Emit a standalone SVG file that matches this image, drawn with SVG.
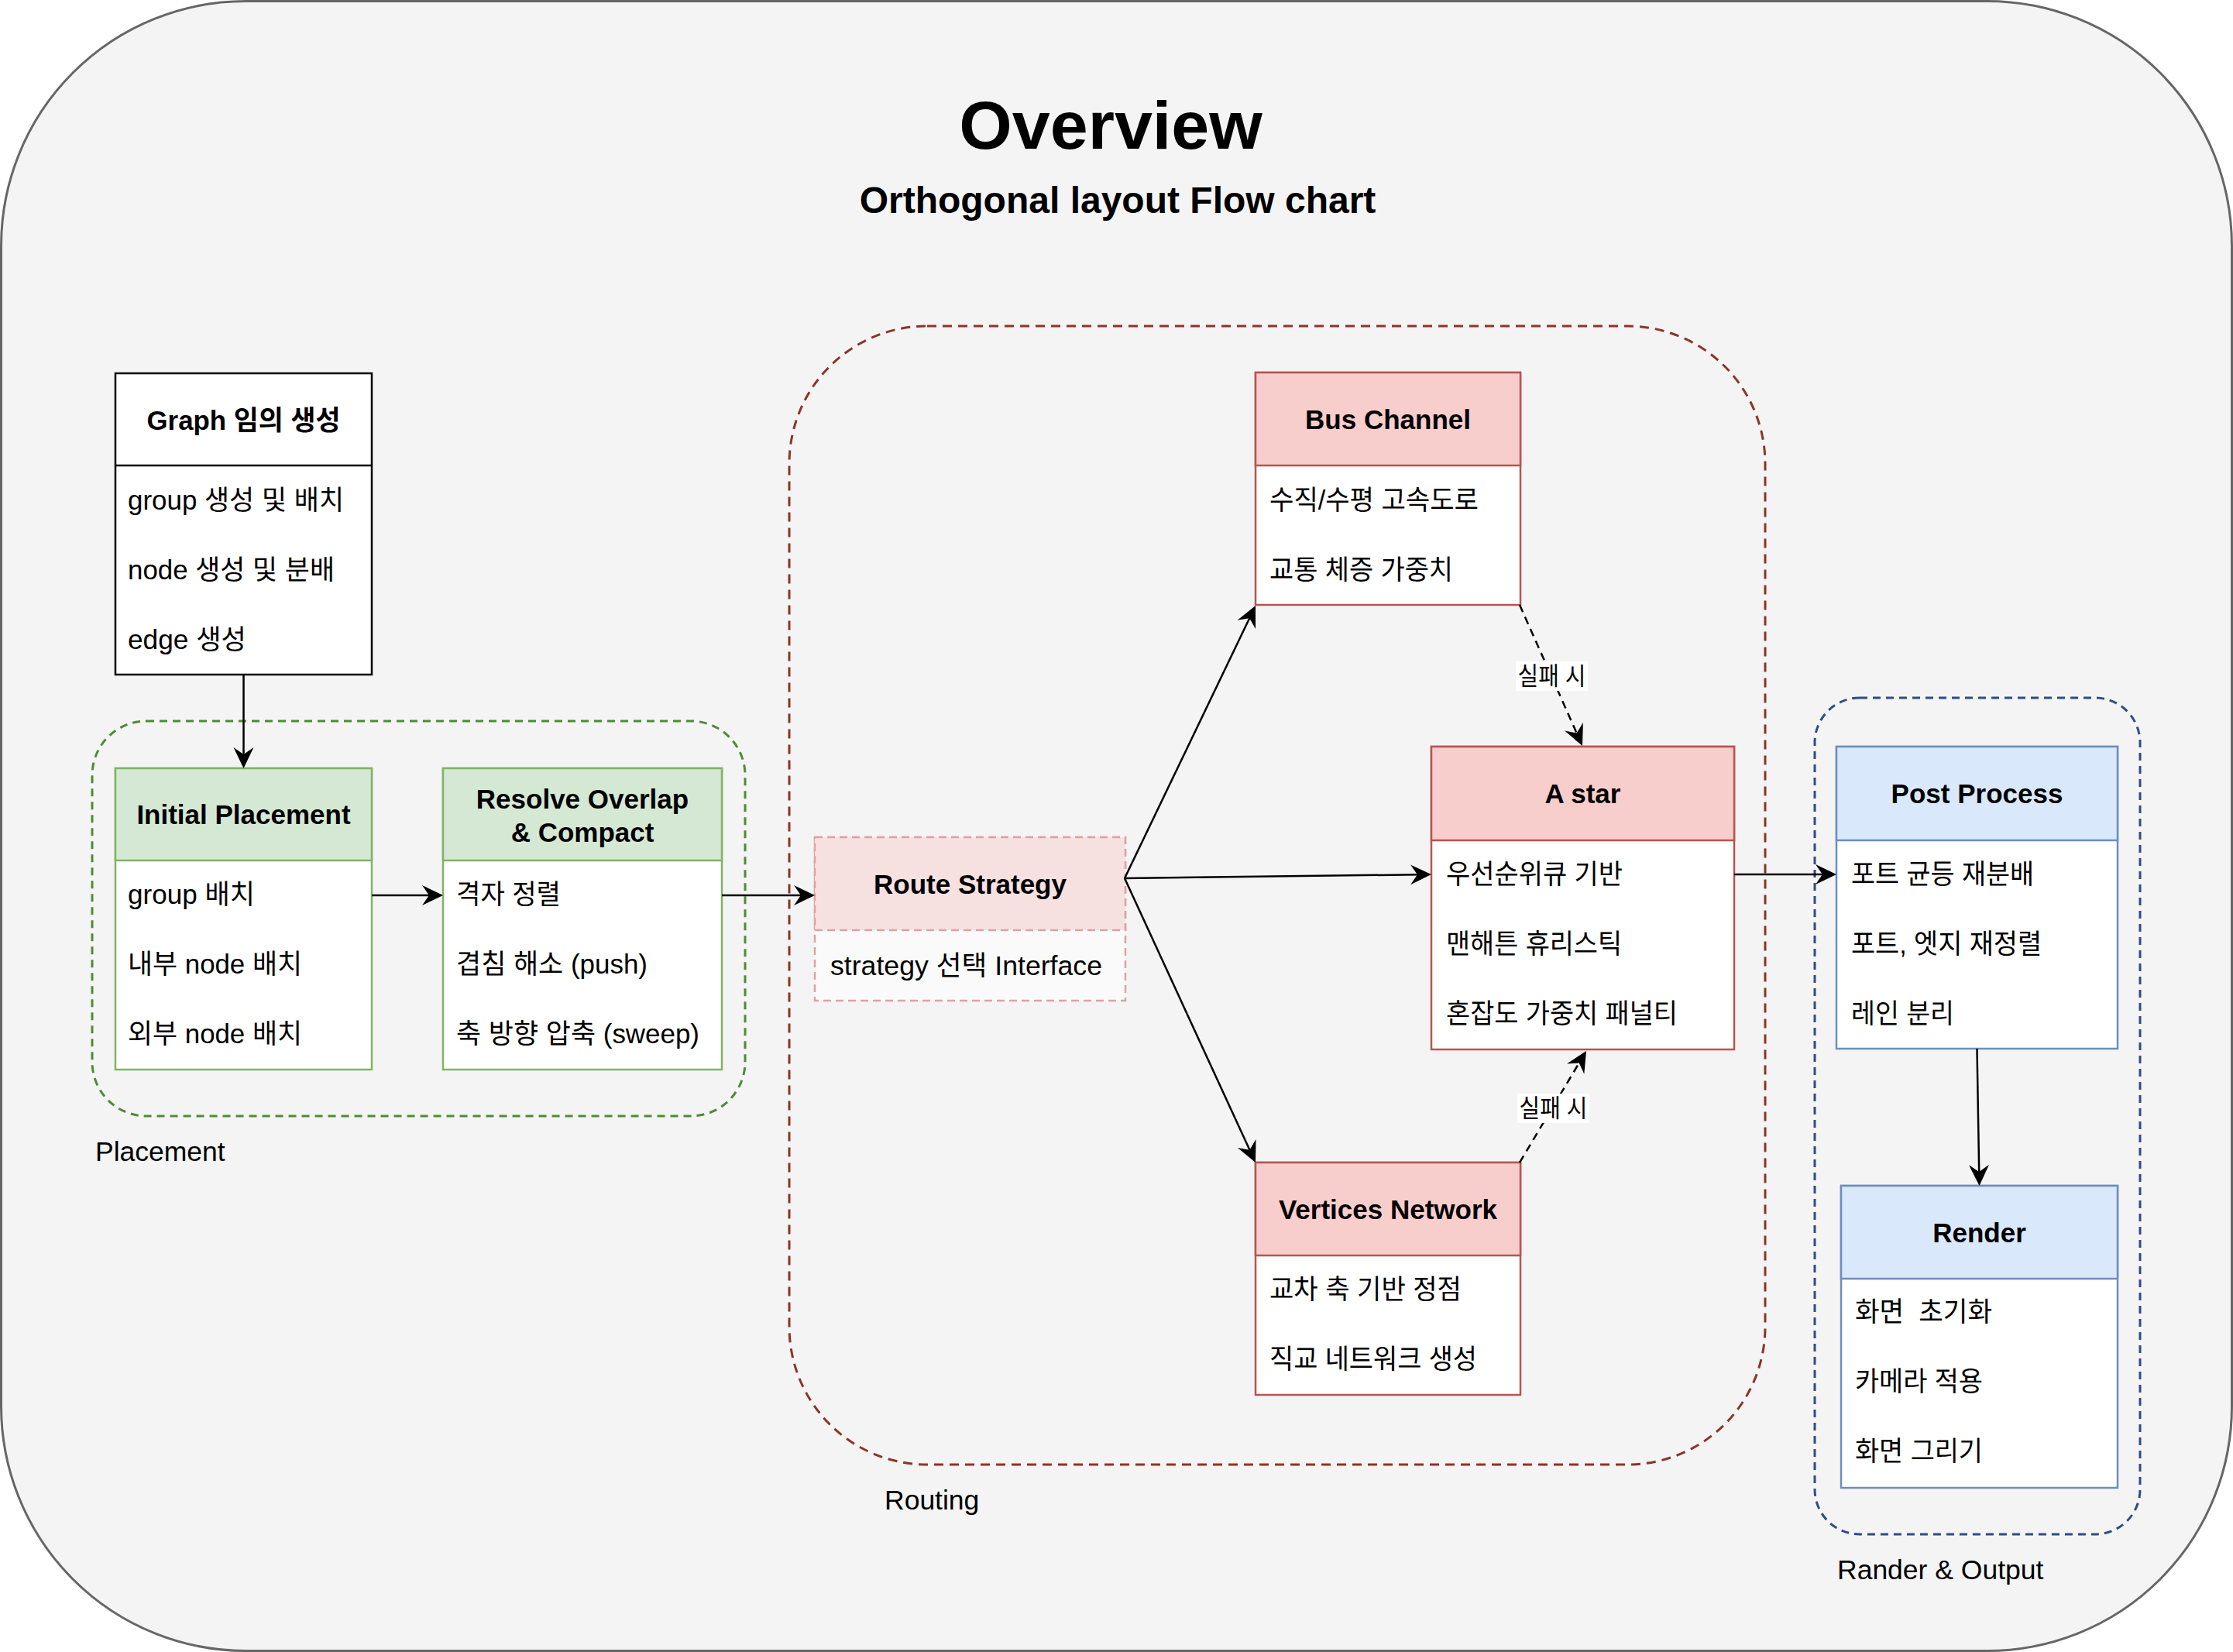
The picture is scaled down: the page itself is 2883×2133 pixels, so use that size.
<svg xmlns="http://www.w3.org/2000/svg" width="2883" height="2133" viewBox="0 0 2883 2133">
<defs>
<style>
text { font-family: 'Liberation Sans', 'Noto Sans CJK KR', sans-serif; fill: #000; }
.t { font-size: 35.5px; }
.h { font-size: 35px; font-weight: bold; text-anchor: middle; }
.lbl { font-size: 32px; text-anchor: middle; }
.title { font-size: 88px; font-weight: bold; text-anchor: middle; }
.sub { font-size: 48px; font-weight: bold; text-anchor: middle; }
.edge { fill: none; stroke: #000; stroke-width: 2.5; }
.dash { stroke-dasharray: 10 7; }
.body { fill: #fff; stroke-width: 2.5; }
.plain { stroke: #000; }
.gH { fill: #d5e8d4; stroke: #82b366; stroke-width: 2.5; }
.gB { stroke: #82b366; }
.rH { fill: #f8cecc; stroke: #b85450; stroke-width: 2.5; }
.rB { stroke: #b85450; }
.bH { fill: #dae8fc; stroke: #6c8ebf; stroke-width: 2.5; }
.bB { stroke: #6c8ebf; }
.grp { fill: none; stroke-width: 3; stroke-dasharray: 10 7; }
</style>
<marker id="arr" viewBox="0 -14 28 28" refX="12" refY="0" markerWidth="28" markerHeight="28" markerUnits="userSpaceOnUse" orient="auto">
<path d="M27,0 L0,-13 L9,0 L0,13 Z" fill="#000"/>
</marker>
</defs>

<rect x="0" y="0" width="2883" height="2133" fill="#ffffff"/>
<g id="frame">
<rect x="1.5" y="1.5" width="2880" height="2130" rx="316" ry="316" fill="#f4f4f4" stroke="#666666" stroke-width="3"/>
<text class="title" x="1434" y="192">Overview</text>
<text class="sub" x="1443" y="275">Orthogonal layout Flow chart</text>
</g>

<g id="group-placement">
<rect class="grp" x="119" y="931" width="843" height="510" rx="70" ry="70" stroke="#4f8b36"/>
<text class="t" x="123" y="1499">Placement</text>
</g>
<g id="group-routing">
<rect class="grp" x="1019" y="421" width="1260" height="1470" rx="178" ry="178" stroke="#8b3526" style="stroke-dasharray:12 8"/>
<text class="t" x="1142" y="1949">Routing</text>
</g>
<g id="group-output">
<rect class="grp" x="2343" y="901" width="420" height="1080" rx="58" ry="58" stroke="#2e4d83"/>
<text class="t" x="2372" y="2039">Rander &amp; Output</text>
</g>

<g id="node-graph">
<rect class="body plain" x="149" y="482" width="331" height="389"/>
<line x1="149" y1="601" x2="480" y2="601" stroke="#000" stroke-width="2.5"/>
<text class="h" x="314.5" y="555" textLength="250" lengthAdjust="spacingAndGlyphs">Graph 임의 생성</text>
<text class="t" x="165" y="658" textLength="279" lengthAdjust="spacingAndGlyphs">group 생성 및 배치</text>
<text class="t" x="165" y="748" textLength="267" lengthAdjust="spacingAndGlyphs">node 생성 및 분배</text>
<text class="t" x="165" y="838" textLength="153" lengthAdjust="spacingAndGlyphs">edge 생성</text>
</g>

<g id="node-initial">
<rect class="body gB" x="149" y="992" width="331" height="389"/>
<rect class="gH" x="149" y="992" width="331" height="119"/>
<text class="h" x="314.5" y="1064">Initial Placement</text>
<text class="t" x="165" y="1167" textLength="164" lengthAdjust="spacingAndGlyphs">group 배치</text>
<text class="t" x="165" y="1257" textLength="225" lengthAdjust="spacingAndGlyphs">내부 node 배치</text>
<text class="t" x="165" y="1347" textLength="225" lengthAdjust="spacingAndGlyphs">외부 node 배치</text>
</g>

<g id="node-resolve">
<rect class="body gB" x="572" y="992" width="360" height="389"/>
<rect class="gH" x="572" y="992" width="360" height="119"/>
<text class="h" x="752" y="1044">Resolve Overlap</text>
<text class="h" x="752" y="1087">&amp; Compact</text>
<text class="t" x="589" y="1167" textLength="135" lengthAdjust="spacingAndGlyphs">격자 정렬</text>
<text class="t" x="589" y="1257" textLength="247" lengthAdjust="spacingAndGlyphs">겹침 해소 (push)</text>
<text class="t" x="589" y="1347" textLength="314" lengthAdjust="spacingAndGlyphs">축 방향 압축 (sweep)</text>
</g>

<g id="node-route">
<rect x="1052" y="1081" width="401" height="211" fill="#fafafa" stroke="#dca3a3" stroke-width="2.5" stroke-dasharray="10 6"/>
<rect x="1052" y="1081" width="401" height="120" fill="#f7e1e0" stroke="#dca3a3" stroke-width="2.5" stroke-dasharray="10 6"/>
<text class="h" x="1252.5" y="1154">Route Strategy</text>
<text class="t" x="1072" y="1259" textLength="351" lengthAdjust="spacingAndGlyphs">strategy 선택 Interface</text>
</g>

<g id="node-bus">
<rect class="body rB" x="1621" y="481" width="342" height="300"/>
<rect class="rH" x="1621" y="481" width="342" height="120"/>
<text class="h" x="1792" y="554">Bus Channel</text>
<text class="t" x="1639" y="658" textLength="270" lengthAdjust="spacingAndGlyphs">수직/수평 고속도로</text>
<text class="t" x="1639" y="748" textLength="237" lengthAdjust="spacingAndGlyphs">교통 체증 가중치</text>
</g>

<g id="node-astar">
<rect class="body rB" x="1848" y="964" width="391" height="391"/>
<rect class="rH" x="1848" y="964" width="391" height="121"/>
<text class="h" x="2043.5" y="1037">A star</text>
<text class="t" x="1867" y="1141" textLength="228" lengthAdjust="spacingAndGlyphs">우선순위큐 기반</text>
<text class="t" x="1867" y="1231" textLength="227" lengthAdjust="spacingAndGlyphs">맨해튼 휴리스틱</text>
<text class="t" x="1867" y="1321" textLength="299" lengthAdjust="spacingAndGlyphs">혼잡도 가중치 패널티</text>
</g>

<g id="node-vertices">
<rect class="body rB" x="1621" y="1501" width="342" height="300"/>
<rect class="rH" x="1621" y="1501" width="342" height="120"/>
<text class="h" x="1792" y="1574">Vertices Network</text>
<text class="t" x="1639" y="1677" textLength="248" lengthAdjust="spacingAndGlyphs">교차 축 기반 정점</text>
<text class="t" x="1639" y="1767" textLength="268" lengthAdjust="spacingAndGlyphs">직교 네트워크 생성</text>
</g>

<g id="node-post">
<rect class="body bB" x="2371" y="964" width="363" height="390"/>
<rect class="bH" x="2371" y="964" width="363" height="121"/>
<text class="h" x="2552.5" y="1037">Post Process</text>
<text class="t" x="2390" y="1141" textLength="236" lengthAdjust="spacingAndGlyphs">포트 균등 재분배</text>
<text class="t" x="2390" y="1231" textLength="246" lengthAdjust="spacingAndGlyphs">포트, 엣지 재정렬</text>
<text class="t" x="2390" y="1321" textLength="133" lengthAdjust="spacingAndGlyphs">레인 분리</text>
</g>

<g id="node-render">
<rect class="body bB" x="2377" y="1531" width="357" height="390"/>
<rect class="bH" x="2377" y="1531" width="357" height="120"/>
<text class="h" x="2555.5" y="1604">Render</text>
<text class="t" x="2395" y="1706" textLength="177" lengthAdjust="spacingAndGlyphs" xml:space="preserve">화면  초기화</text>
<text class="t" x="2395" y="1796" textLength="165" lengthAdjust="spacingAndGlyphs">카메라 적용</text>
<text class="t" x="2395" y="1886" textLength="165" lengthAdjust="spacingAndGlyphs">화면 그리기</text>
</g>

<g id="connectors">
<line class="edge" x1="314.5" y1="871" x2="314.5" y2="977" marker-end="url(#arr)"/>
<line class="edge" x1="480" y1="1156" x2="557" y2="1156" marker-end="url(#arr)"/>
<line class="edge" x1="932" y1="1156" x2="1037" y2="1156" marker-end="url(#arr)"/>
<line class="edge" x1="1452" y1="1134" x2="1614.5" y2="795.5" marker-end="url(#arr)"/>
<line class="edge" x1="1452" y1="1134" x2="1833" y2="1129.2" marker-end="url(#arr)"/>
<line class="edge" x1="1452" y1="1134" x2="1614.7" y2="1487.4" marker-end="url(#arr)"/>
<line class="edge dash" x1="1962" y1="781" x2="2036.9" y2="949.3" marker-end="url(#arr)"/>
<line class="edge dash" x1="1962" y1="1501" x2="2040.3" y2="1369.9" marker-end="url(#arr)"/>
<line class="edge" x1="2239" y1="1129" x2="2356" y2="1129" marker-end="url(#arr)"/>
<line class="edge" x1="2552.5" y1="1354" x2="2555.25" y2="1516" marker-end="url(#arr)"/>
<rect x="1957" y="854" width="93" height="38" fill="#ffffff"/>
<text class="lbl" x="2003.5" y="884" textLength="88" lengthAdjust="spacingAndGlyphs">실패 시</text>
<rect x="1959" y="1412" width="93" height="38" fill="#ffffff"/>
<text class="lbl" x="2005.5" y="1442" textLength="88" lengthAdjust="spacingAndGlyphs">실패 시</text>
</g>
</svg>
